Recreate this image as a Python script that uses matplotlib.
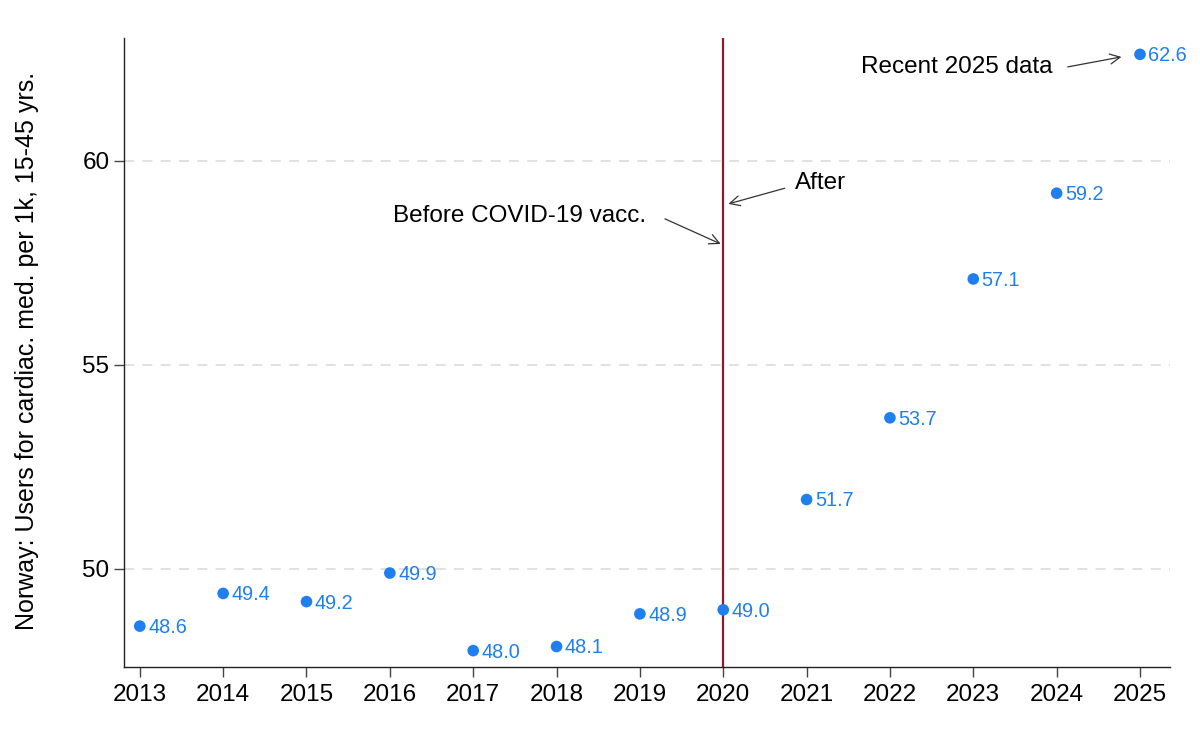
import numpy as np
import matplotlib.pyplot as plt

plt.rcParams['font.family'] = ['Liberation Sans', 'DejaVu Sans']

# data
years = [2013, 2014, 2015, 2016, 2017, 2018, 2019, 2020, 2021, 2022, 2023, 2024, 2025]
users = [48.6, 49.4, 49.2, 49.9, 48.0, 48.1, 48.9, 49.0, 51.7, 53.7, 57.1, 59.2, 62.6]
yticks = [50, 55, 60]

blue = '#1f7fef'
red = '#8b1a2b'

fig = plt.figure(figsize=(12, 7.31), dpi=100)
ax = fig.add_axes([0.1033, 0.0876, 0.8717, 0.8604])

ax.set_xlim(2012.81, 2025.36)
ax.set_ylim(47.6, 63.0)

# grid lines
for t in yticks:
    ax.axhline(t, color='#dcdcdc', lw=1.2, ls=(0, (6, 5)), zorder=0)

ax.axvline(2020, color=red, lw=1.6, zorder=1)

ax.scatter(years, users, s=70, color=blue, zorder=3, edgecolors='none')
for x, y in zip(years, users):
    ax.annotate(f'{y:.1f}', (x, y), xytext=(6, -1), textcoords='offset points',
                color=blue, fontsize=14.3, va='center', ha='left')

# annotations
arr = dict(arrowstyle='->', color='#333333', lw=0.9, mutation_scale=18)
ax.annotate('', xy=(2020, 57.93), xytext=(2019.27, 58.6), arrowprops=arr)
ax.text(2019.08, 58.65, 'Before COVID-19 vacc.', fontsize=17.5, ha='right', va='center')
ax.annotate('', xy=(2020.03, 58.92), xytext=(2020.77, 59.34), arrowprops=arr)
ax.text(2020.86, 59.44, 'After', fontsize=17.5, ha='left', va='center')
ax.annotate('', xy=(2024.81, 62.55), xytext=(2024.1, 62.28), arrowprops=arr)
ax.text(2023.95, 62.3, 'Recent 2025 data', fontsize=17.5, ha='right', va='center')

ax.spines['top'].set_visible(False)
ax.spines['right'].set_visible(False)
for s in ['left', 'bottom']:
    ax.spines[s].set_linewidth(1.0)
    ax.spines[s].set_color('#222222')

ax.set_xticks(years)
ax.set_yticks(yticks)
ax.tick_params(axis='both', labelsize=17.5, length=7, width=1.0, color='#444444')
ax.tick_params(axis='x', pad=5)
ax.set_ylabel('Norway: Users for cardiac. med. per 1k, 15-45 yrs.', fontsize=18)
ax.yaxis.set_label_coords(-0.081, 0.502)

fig.savefig('out.png', dpi=100)
